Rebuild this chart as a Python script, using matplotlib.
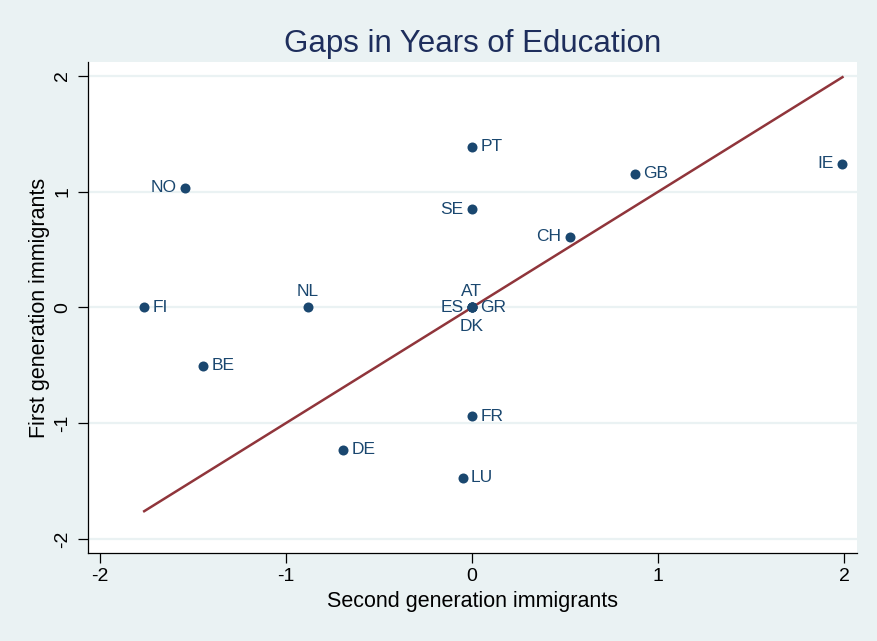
import matplotlib.pyplot as plt

# Gaps in years of education, by country
countries = ["PT", "NO", "GB", "IE", "SE", "CH", "FI", "NL", "AT", "ES", "GR", "DK", "BE", "FR", "DE", "LU"]
second_gen = [0.0, -1.54, 0.875, 1.99, 0.0, 0.525, -1.76, -0.88, 0.0, 0.0, 0.0, 0.0, -1.445, 0.0, -0.69, -0.05]
first_gen = [1.39, 1.035, 1.155, 1.24, 0.85, 0.61, 0.0, 0.0, 0.0, 0.0, 0.0, 0.0, -0.505, -0.94, -1.23, -1.47]
# clock position of each marker label (Stata style)
label_pos = ["r", "l", "r", "l", "l", "l", "r", "t", "t", "l", "r", "b", "r", "r", "r", "r"]

bg = "#EAF2F3"
navy = "#1A476F"
maroon = "#90353B"

plt.rcParams['font.family'] = ['Liberation Sans', 'DejaVu Sans']

fig = plt.figure(figsize=(8.77, 6.41), dpi=100, facecolor=bg)
ax = fig.add_axes([0.1003, 0.1373, 0.8767, 0.766])
ax.set_facecolor("white")

ax.set_xlim(-2.062, 2.067)
ax.set_ylim(-2.121, 2.121)

for yv in [-2, -1, 0, 1, 2]:
    ax.axhline(yv, color=bg, lw=1.6, zorder=0)

# 45 degree line across the range of the data
x_lo, x_hi = min(second_gen), max(second_gen)
ax.plot([x_lo, x_hi], [x_lo, x_hi], color=maroon, lw=1.8, zorder=2)

ax.scatter(second_gen, first_gen, s=52, color=navy, zorder=3, linewidths=0)

offsets = {"r": (6, 0, "left", "center"), "l": (-6, 0, "right", "center"),
           "t": (0, 6, "center", "bottom"), "b": (0, -8, "center", "top")}
for name, xv, yv, p in zip(countries, second_gen, first_gen, label_pos):
    dx, dy, ha, va = offsets[p]
    ax.annotate(name, (xv, yv), xytext=(dx, dy), textcoords="offset points",
                ha=ha, va=va, fontsize=12.5, color=navy, zorder=4)

ax.set_xticks([-2, -1, 0, 1, 2])
ax.set_xticklabels(["-2", "-1", "0", "1", "2"])
ax.set_yticks([-2, -1, 0, 1, 2])
ax.set_yticklabels(["-2", "-1", "0", "1", "2"], rotation=90, va="center")
ax.tick_params(axis="both", labelsize=14, length=7, width=0.9, color="black")
ax.tick_params(axis="x", pad=4)
ax.tick_params(axis="y", pad=5)

for side in ["top", "right"]:
    ax.spines[side].set_visible(False)
for side in ["left", "bottom"]:
    ax.spines[side].set_color("black")
    ax.spines[side].set_linewidth(0.9)

ax.set_xlabel("Second generation immigrants", fontsize=15.5, labelpad=4)
ax.set_ylabel("First generation immigrants", fontsize=15.5, labelpad=3)
ax.set_title("Gaps in Years of Education", fontsize=22.5, color="#1E2E5C", pad=7)

fig.savefig("out.png", dpi=100, facecolor=bg)
